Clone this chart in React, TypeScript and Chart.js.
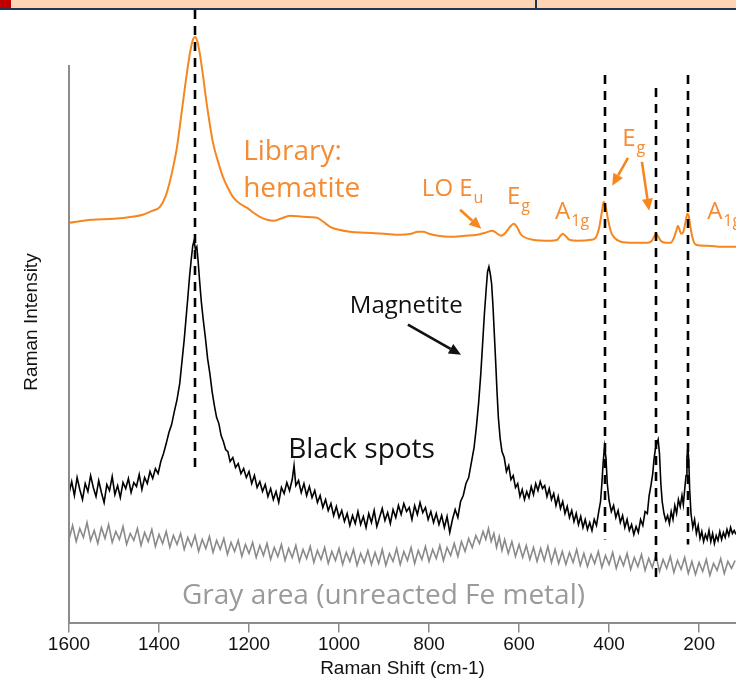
import React, { useEffect, useRef } from "react";
import { Chart, registerables } from "chart.js";

Chart.register(...registerables);

// ---------- data (Raman shift cm-1, relative intensity) ----------
const X_TICKS = [1600, 1400, 1200, 1000, 800, 600, 400, 200];
const X_MIN = 118;
const X_MAX = 1600;
const Y_MIN = 0;
const Y_MAX = 624;

const HEMATITE: [number, number][] = [
  [1600, 401], [1550, 404], [1500, 405], [1460, 407], [1436, 409], [1415, 413], [1398, 417], [1385, 428],
  [1376, 442], [1368, 458], [1360, 477], [1349, 514], [1338, 551], [1330, 574], [1324, 585], [1320, 587],
  [1315, 583], [1310, 572], [1304, 554], [1293, 517], [1280, 481], [1268, 461], [1258, 447], [1246, 435],
  [1236, 427], [1220, 420], [1204, 416], [1190, 411], [1176, 407], [1160, 404], [1145, 403], [1130, 405],
  [1109, 408], [1080, 407], [1049, 406], [1035, 402], [1020, 397], [1000, 394], [976, 392], [940, 391],
  [900, 390], [864, 389], [840, 390], [825, 392], [813, 392], [800, 390], [780, 388], [753, 387],
  [720, 388], [693, 389], [675, 391], [659, 393], [648, 390], [640, 388], [630, 391], [620, 397],
  [612, 400], [605, 397], [597, 390], [590, 387], [570, 384], [530, 383], [515, 384], [508, 388],
  [503, 390], [497, 388], [488, 384], [470, 383], [440, 384], [430, 386], [422, 396], [416, 412],
  [412, 422], [408, 418], [403, 406], [396, 392], [388, 386], [374, 382], [345, 381], [314, 381],
  [305, 383], [299, 388], [296, 390], [292, 388], [285, 383], [275, 381], [263, 381], [256, 386],
  [250, 394], [247, 398], [244, 395], [240, 390], [235, 392], [230, 402], [226, 410], [223, 408],
  [219, 396], [214, 385], [207, 379], [180, 378], [150, 377], [118, 377],
];

const BLACK_SPOTS: [number, number][] = [
  [1600, 130], [1594, 142], [1588, 128], [1582, 146], [1576, 134], [1570, 124], [1564, 140], [1558, 132],
  [1552, 148], [1546, 136], [1540, 127], [1534, 143], [1528, 131], [1522, 121], [1516, 139], [1510, 133],
  [1504, 147], [1498, 129], [1492, 138], [1486, 126], [1480, 141], [1474, 135], [1468, 145], [1462, 131],
  [1456, 141], [1450, 137], [1444, 149], [1438, 134], [1432, 146], [1426, 140], [1420, 152], [1414, 145],
  [1408, 155], [1402, 150], [1396, 162], [1390, 170], [1384, 180], [1378, 191], [1372, 199], [1366, 212],
  [1360, 224], [1354, 240], [1349, 262], [1344, 284], [1340, 305], [1336, 326], [1332, 348], [1328, 366],
  [1325, 378], [1322, 383], [1319, 374], [1316, 377], [1313, 362], [1310, 344], [1306, 322], [1302, 305],
  [1297, 286], [1292, 265], [1287, 250], [1282, 232], [1277, 218], [1272, 206], [1267, 200], [1262, 188],
  [1257, 182], [1252, 174], [1247, 172], [1242, 162], [1236, 166], [1230, 156], [1224, 160], [1218, 150],
  [1212, 155], [1206, 146], [1200, 152], [1194, 140], [1188, 148], [1182, 136], [1176, 142], [1170, 132],
  [1164, 139], [1158, 127], [1152, 135], [1146, 124], [1140, 132], [1134, 121], [1128, 136], [1122, 130],
  [1116, 141], [1110, 133], [1104, 144], [1100, 158], [1096, 138], [1090, 143], [1084, 131], [1078, 140],
  [1072, 128], [1066, 137], [1060, 126], [1054, 133], [1048, 121], [1042, 128], [1036, 116], [1030, 124],
  [1024, 113], [1018, 120], [1012, 108], [1006, 117], [1000, 106], [994, 113], [988, 102], [982, 110],
  [976, 98], [970, 108], [964, 100], [958, 112], [952, 99], [946, 107], [940, 96], [934, 110],
  [928, 101], [922, 113], [916, 97], [910, 106], [904, 115], [898, 103], [892, 111], [886, 100],
  [880, 114], [874, 106], [868, 118], [862, 109], [856, 120], [850, 112], [844, 116], [838, 104],
  [832, 118], [826, 109], [820, 121], [814, 111], [808, 116], [802, 104], [796, 112], [790, 101],
  [784, 110], [778, 99], [772, 108], [766, 96], [760, 107], [754, 91], [748, 104], [742, 114],
  [736, 106], [730, 122], [724, 128], [718, 140], [712, 146], [706, 161], [700, 176], [695, 196],
  [690, 220], [685, 250], [681, 280], [677, 310], [673, 335], [670, 352], [667, 357], [664, 350],
  [661, 340], [658, 318], [655, 290], [652, 262], [649, 232], [646, 206], [642, 185], [638, 172],
  [633, 166], [628, 152], [623, 158], [618, 144], [613, 148], [608, 136], [603, 140], [598, 127],
  [593, 134], [588, 124], [583, 132], [578, 126], [573, 137], [568, 129], [563, 140], [558, 133],
  [553, 142], [548, 135], [543, 138], [538, 127], [533, 135], [528, 124], [523, 130], [518, 118],
  [513, 127], [508, 115], [503, 122], [498, 110], [493, 117], [488, 106], [483, 113], [478, 102],
  [473, 110], [468, 99], [463, 107], [458, 96], [453, 104], [448, 94], [443, 101], [438, 93],
  [433, 104], [428, 98], [423, 112], [419, 122], [416, 140], [413, 162], [410, 177], [407, 166],
  [404, 140], [400, 123], [395, 112], [390, 118], [385, 106], [380, 113], [375, 101], [370, 108],
  [365, 96], [360, 104], [355, 93], [350, 99], [345, 89], [340, 97], [335, 91], [330, 104],
  [325, 98], [320, 112], [315, 110], [311, 128], [307, 138], [303, 150], [300, 165], [297, 175],
  [294, 180], [291, 184], [288, 170], [285, 140], [282, 122], [278, 110], [274, 103], [270, 108],
  [266, 100], [262, 112], [258, 104], [254, 118], [250, 110], [246, 124], [242, 117], [238, 128],
  [235, 119], [232, 134], [229, 148], [227, 166], [225, 176], [223, 164], [221, 135], [218, 110],
  [214, 96], [210, 104], [206, 90], [202, 98], [198, 85], [194, 92], [190, 82], [186, 89],
  [182, 84], [178, 93], [174, 82], [170, 90], [166, 80], [162, 88], [158, 83], [154, 92],
  [150, 84], [146, 91], [142, 86], [138, 94], [134, 88], [130, 96], [126, 90], [122, 93], [118, 89],
];

const GRAY_AREA: [number, number][] = [
  [1600, 84], [1592, 98], [1584, 82], [1576, 95], [1568, 86], [1560, 101], [1552, 83], [1544, 93],
  [1536, 80], [1528, 96], [1520, 85], [1512, 99], [1504, 81], [1496, 92], [1488, 84], [1480, 97],
  [1472, 79], [1464, 90], [1456, 83], [1448, 95], [1440, 78], [1432, 91], [1424, 82], [1416, 94],
  [1408, 77], [1400, 89], [1392, 80], [1384, 92], [1376, 76], [1368, 88], [1360, 79], [1352, 90],
  [1344, 74], [1336, 86], [1328, 77], [1320, 88], [1312, 72], [1304, 84], [1296, 75], [1288, 87],
  [1280, 71], [1272, 83], [1264, 74], [1256, 85], [1248, 69], [1240, 81], [1232, 72], [1224, 83],
  [1216, 67], [1208, 79], [1200, 70], [1192, 81], [1184, 66], [1176, 78], [1168, 68], [1160, 80],
  [1152, 64], [1144, 76], [1136, 67], [1128, 79], [1120, 63], [1112, 75], [1104, 66], [1096, 78],
  [1088, 62], [1080, 74], [1072, 65], [1064, 77], [1056, 61], [1048, 73], [1040, 64], [1032, 76],
  [1024, 60], [1016, 72], [1008, 63], [1000, 75], [992, 59], [984, 71], [976, 62], [968, 74],
  [960, 58], [952, 70], [944, 61], [936, 73], [928, 59], [920, 71], [912, 60], [904, 74],
  [896, 58], [888, 70], [880, 62], [872, 75], [864, 59], [856, 72], [848, 63], [840, 76],
  [832, 60], [824, 73], [816, 64], [808, 77], [800, 62], [792, 74], [784, 65], [776, 78],
  [768, 63], [760, 76], [752, 68], [744, 80], [736, 67], [728, 82], [720, 72], [712, 85],
  [704, 76], [696, 88], [688, 80], [680, 92], [674, 84], [668, 95], [662, 82], [656, 90],
  [650, 76], [644, 87], [638, 73], [632, 84], [624, 70], [616, 82], [608, 67], [600, 79],
  [592, 66], [584, 78], [576, 64], [568, 76], [560, 62], [552, 75], [544, 63], [536, 77],
  [528, 61], [520, 74], [512, 60], [504, 72], [496, 59], [488, 71], [480, 61], [472, 74],
  [464, 58], [456, 70], [448, 57], [440, 69], [432, 60], [424, 72], [416, 56], [408, 68],
  [400, 59], [392, 71], [384, 55], [376, 67], [368, 58], [360, 70], [352, 54], [344, 66],
  [336, 57], [328, 69], [320, 53], [312, 65], [304, 56], [296, 68], [288, 52], [280, 64],
  [272, 55], [264, 67], [256, 51], [248, 63], [240, 54], [232, 66], [224, 50], [216, 62],
  [208, 49], [200, 61], [192, 52], [184, 64], [176, 48], [168, 60], [160, 53], [152, 65],
  [144, 50], [136, 62], [128, 55], [120, 63],
];

// reference peak positions (dashed lines): shift, top intensity, bottom intensity
const PEAK_SHIFTS = [1320, 410, 296, 225];
const PEAK_TOPS = [614, 549, 536, 549];
const PEAK_BOTTOMS = [154, 84, 41, 79];

const ORANGE = "#F7861E";
const ORANGE_TEXT = "#F58B33";

// annotation anchors (shift, intensity)
type Label = { text: string; sub?: string; x: number; y: number; size: number; color: string; font: string };
const LABELS: Label[] = [
  { text: "Library:", x: 1213, y: 464, size: 28, color: ORANGE_TEXT, font: "'Open Sans'" },
  { text: "hematite", x: 1213, y: 427, size: 28, color: ORANGE_TEXT, font: "'Open Sans'" },
  { text: "LO E", sub: "u", x: 816, y: 428, size: 24, color: ORANGE_TEXT, font: "'Open Sans'" },
  { text: "E", sub: "g", x: 627, y: 420, size: 24, color: ORANGE_TEXT, font: "'Open Sans'" },
  { text: "A", sub: "1g", x: 520, y: 405, size: 24, color: ORANGE_TEXT, font: "'Open Sans'" },
  { text: "E", sub: "g", x: 371, y: 478, size: 24, color: ORANGE_TEXT, font: "'Open Sans'" },
  { text: "A", sub: "1g", x: 182, y: 405, size: 24, color: ORANGE_TEXT, font: "'Open Sans'" },
  { text: "Magnetite", x: 976, y: 311, size: 24, color: "#111111", font: "'Open Sans'" },
  { text: "Black spots", x: 1113, y: 166, size: 28, color: "#111111", font: "'Open Sans'" },
  { text: "Gray area (unreacted Fe metal)", x: 1349, y: 19, size: 28, color: "#9a9a9a", font: "'Open Sans'" },
];

type Arrow = { x1: number; y1: number; x2: number; y2: number; color: string };
const ARROWS: Arrow[] = [
  { x1: 731, y1: 414, x2: 684, y2: 395, color: ORANGE },
  { x1: 358, y1: 466, x2: 393, y2: 438, color: ORANGE },
  { x1: 327, y1: 462, x2: 311, y2: 413, color: ORANGE },
  { x1: 847, y1: 299, x2: 729, y2: 269, color: "#111111" },
];

const toPts = (arr: [number, number][]) => arr.map(([x, y]) => ({ x, y }));

function drawArrow(ctx: CanvasRenderingContext2D, x1: number, y1: number, x2: number, y2: number, color: string) {
  const ang = Math.atan2(y2 - y1, x2 - x1);
  const head = 12;
  const half = 5.5;
  const bx = x2 - head * Math.cos(ang);
  const by = y2 - head * Math.sin(ang);
  ctx.save();
  ctx.strokeStyle = color;
  ctx.fillStyle = color;
  ctx.lineWidth = 2.6;
  ctx.beginPath();
  ctx.moveTo(x1, y1);
  ctx.lineTo(bx, by);
  ctx.stroke();
  ctx.beginPath();
  ctx.moveTo(x2, y2);
  ctx.lineTo(bx + half * Math.sin(ang), by - half * Math.cos(ang));
  ctx.lineTo(bx - half * Math.sin(ang), by + half * Math.cos(ang));
  ctx.closePath();
  ctx.fill();
  ctx.restore();
}

const decorPlugin = {
  id: "decor",
  beforeDraw(chart: any) {
    const ctx: CanvasRenderingContext2D = chart.ctx;
    ctx.save();
    ctx.fillStyle = "#ffffff";
    ctx.fillRect(0, 0, chart.width, chart.height);
    // slide header strip
    ctx.fillStyle = "#FDD5B4";
    ctx.fillRect(0, 0, chart.width, 8);
    ctx.fillStyle = "#C00000";
    ctx.fillRect(0, 0, 11, 8);
    ctx.fillStyle = "#1F3550";
    ctx.fillRect(0, 8, chart.width, 2);
    ctx.fillRect(535, 0, 2, 9);
    ctx.restore();
  },
  afterDatasetsDraw(chart: any) {
    const ctx: CanvasRenderingContext2D = chart.ctx;
    const xs = chart.scales.x;
    const ys = chart.scales.y;
    ctx.save();
    // y axis line (partial)
    ctx.strokeStyle = "#8c8c8c";
    ctx.lineWidth = 2;
    ctx.beginPath();
    ctx.moveTo(chart.chartArea.left, ys.getPixelForValue(559));
    ctx.lineTo(chart.chartArea.left, ys.getPixelForValue(0));
    ctx.stroke();
    // y axis title
    ctx.save();
    ctx.translate(32, 322);
    ctx.rotate(-Math.PI / 2);
    ctx.fillStyle = "#111111";
    ctx.font = "19px 'Liberation Sans', Arial, sans-serif";
    ctx.textAlign = "center";
    ctx.textBaseline = "middle";
    ctx.fillText("Raman Intensity", 0, 0);
    ctx.restore();
    // dashed reference lines
    ctx.strokeStyle = "#000000";
    ctx.lineWidth = 2.6;
    ctx.setLineDash([9, 7]);
    PEAK_SHIFTS.forEach((s, i) => {
      const px = Math.round(xs.getPixelForValue(s));
      ctx.beginPath();
      ctx.moveTo(px, ys.getPixelForValue(PEAK_TOPS[i]));
      ctx.lineTo(px, ys.getPixelForValue(PEAK_BOTTOMS[i]));
      ctx.stroke();
    });
    ctx.setLineDash([]);
    // labels
    ctx.textBaseline = "alphabetic";
    ctx.textAlign = "left";
    LABELS.forEach((l) => {
      const px = xs.getPixelForValue(l.x);
      const py = ys.getPixelForValue(l.y);
      ctx.fillStyle = l.color;
      ctx.font = `${l.size}px ${l.font}, sans-serif`;
      ctx.fillText(l.text, px, py);
      if (l.sub) {
        const w = ctx.measureText(l.text).width;
        ctx.font = `${Math.round(l.size * 0.66)}px ${l.font}, sans-serif`;
        ctx.fillText(l.sub, px + w + 1, py + 7);
      }
    });
    ARROWS.forEach((a) => {
      drawArrow(ctx, xs.getPixelForValue(a.x1), ys.getPixelForValue(a.y1), xs.getPixelForValue(a.x2), ys.getPixelForValue(a.y2), a.color);
    });
    ctx.restore();
  },
};

export default function App() {
  const ref = useRef<HTMLCanvasElement | null>(null);
  useEffect(() => {
    if (!ref.current) return;
    const chart = new Chart(ref.current, {
      type: "line",
      data: {
        datasets: [
          {
            label: "Library: hematite",
            data: toPts(HEMATITE),
            borderColor: ORANGE,
            borderWidth: 2,
            pointRadius: 0,
            cubicInterpolationMode: "monotone",
          },
          {
            label: "Black spots",
            data: toPts(BLACK_SPOTS),
            borderColor: "#000000",
            borderWidth: 1.6,
            pointRadius: 0,
            tension: 0,
          },
          {
            label: "Gray area (unreacted Fe metal)",
            data: toPts(GRAY_AREA),
            borderColor: "#8a8a8a",
            borderWidth: 1.6,
            pointRadius: 0,
            tension: 0,
          },
        ],
      },
      options: {
        animation: false,
        responsive: false,
        devicePixelRatio: 1,
        layout: { padding: { left: 69, right: 0, top: 0, bottom: 0 } },
        plugins: { legend: { display: false }, tooltip: { enabled: false } },
        scales: {
          x: {
            type: "linear",
            reverse: true,
            min: X_MIN,
            max: X_MAX,
            afterBuildTicks: (scale: any) => {
              scale.ticks = X_TICKS.map((v) => ({ value: v }));
            },
            ticks: {
              color: "#111111",
              padding: 1,
              maxRotation: 0,
              autoSkip: false,
              callback: (v: any) => String(v),
              font: { family: "'Liberation Sans', Arial, sans-serif", size: 19 },
            },
            grid: { display: true, drawOnChartArea: false, drawTicks: true, tickLength: 9, color: "#8c8c8c", lineWidth: 1.5 },
            border: { display: true, color: "#8c8c8c", width: 2 },
            title: {
              display: true,
              text: "Raman Shift (cm-1)",
              color: "#111111",
              padding: { top: 0, bottom: 2 },
              font: { family: "'Liberation Sans', Arial, sans-serif", size: 19 },
            },
          },
          y: {
            display: false,
            min: Y_MIN,
            max: Y_MAX,
          },
        },
      },
      plugins: [decorPlugin],
    });
    return () => chart.destroy();
  }, []);
  return (
    <div style={{ position: "absolute", left: 0, top: 0, width: 736, height: 682 }}>
      <canvas ref={ref} width={736} height={682} />
    </div>
  );
}
